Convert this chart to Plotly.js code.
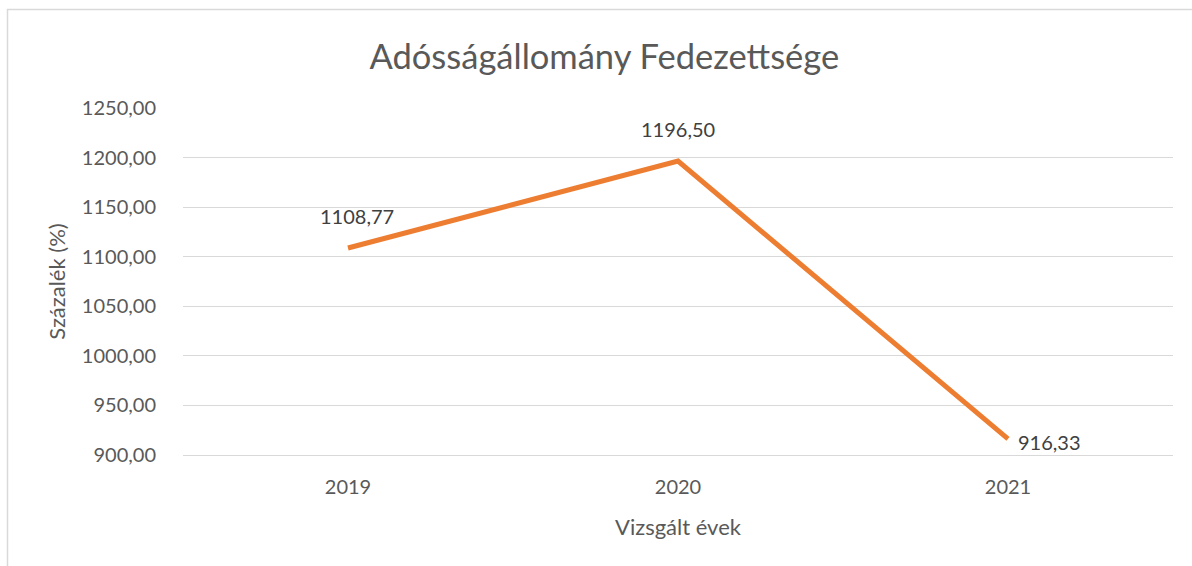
<!DOCTYPE html>
<html><head><meta charset="utf-8">
<script src="https://cdn.plot.ly/plotly-3.0.1.min.js"></script>
<style>html,body{margin:0;padding:0;background:#fff}</style>
</head><body><div id="chart" style="width:1192px;height:566px"></div>
<script>
const years = ['2019', '2020', '2021'];
const coverage = [1108.77, 1196.50, 916.33];
const labelAnchors = ['center', 'center', 'left'];
const labelXShift = [9, 0, 8];
const labelYShift = [32, 32, -3];
const yTicks = [900, 950, 1000, 1050, 1100, 1150, 1200, 1250];

const FONT = 'Lato, "Open Sans", sans-serif';
const fmt = v => v.toFixed(2).replace('.', ',');
const trace = {
  x: years, y: coverage, type: 'scatter', mode: 'lines',
  line: {color: '#ED7D31', width: 5},
  cliponaxis: false, hoverinfo: 'skip'
};
// category axis: annotation x is the category index of each year
const annotations = years.map((yr, i) => ({
  x: i, y: coverage[i], xref: 'x', yref: 'y', text: fmt(coverage[i]),
  showarrow: false, xanchor: labelAnchors[i], yanchor: 'middle',
  xshift: labelXShift[i], yshift: labelYShift[i],
  font: {family: FONT, size: 20, color: '#404040'}
}));
const layout = {
  width: 1192, height: 566,
  margin: {l: 183, r: 19, t: 108, b: 111},
  separators: ', ',
  paper_bgcolor: '#fff', plot_bgcolor: '#fff',
  font: {family: FONT, color: '#595959'},
  showlegend: false,
  annotations: annotations,
  title: {text: 'Adósságállomány Fedezettsége', font: {family: FONT, size: 34.5, color: '#595959'},
          x: 0.507, xref: 'container', xanchor: 'center', y: 0.9, yref: 'container', yanchor: 'middle'},
  xaxis: {type: 'category', range: [-0.5, 2.5], showgrid: false, zeroline: false,
          showline: true, linecolor: '#d9d9d9', linewidth: 1,
          ticks: 'outside', ticklen: 14, tickcolor: 'rgba(0,0,0,0)',
          tickfont: {family: FONT, size: 20, color: '#595959'},
          title: {text: 'Vizsgált évek', font: {family: FONT, size: 22, color: '#595959'}, standoff: 22}},
  yaxis: {range: [900, 1250], tickvals: yTicks, tickformat: '.2f',
          showgrid: true, gridcolor: '#d9d9d9', gridwidth: 1, zeroline: false, showline: false,
          ticks: 'outside', ticklen: 22, tickcolor: 'rgba(0,0,0,0)',
          tickfont: {family: FONT, size: 20, color: '#595959'},
          title: {text: 'Százalék (%)', font: {family: FONT, size: 22, color: '#595959'}, standoff: 10}},
  shapes: [{type: 'rect', xref: 'paper', yref: 'paper',
            x0: (7.5 - 183) / 990, x1: (1200 - 183) / 990,
            y0: (455 - 580) / 347, y1: (455 - 9.5) / 347,
            line: {color: '#d9d9d9', width: 1.5}, fillcolor: 'rgba(0,0,0,0)', layer: 'below'}]
};
Plotly.newPlot('chart', [trace], layout, {displayModeBar: false, staticPlot: true});
</script></body></html>
